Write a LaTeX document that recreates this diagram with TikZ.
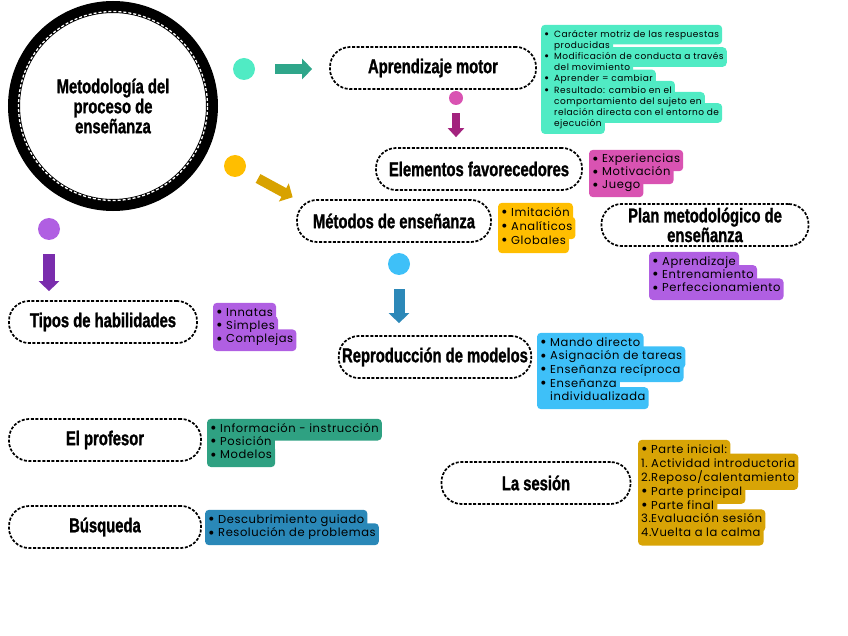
\documentclass[tikz,border=0pt]{standalone}
\usepackage{fontspec}
\newfontfamily\titlefont[FakeStretch=0.74, BoldFeatures={FakeBold=1.2}]{Liberation Sans}
\newfontfamily\bodyfont[LetterSpace=5]{Poppins}
\usetikzlibrary{arrows.meta, positioning, calc, backgrounds}
\definecolor{mapmint}{HTML}{50EBC4}
\definecolor{mapyellow}{HTML}{FFBE00}
\definecolor{mappink}{HTML}{D953B2}
\definecolor{mappurple}{HTML}{B05FE2}
\definecolor{mapblue}{HTML}{3EC0F8}
\definecolor{mapgreen}{HTML}{2FA182}
\definecolor{mapdblue}{HTML}{2A88B8}
\definecolor{mapgold}{HTML}{D8A406}
\definecolor{arrowteal}{HTML}{2FA68A}
\definecolor{arrowgold}{HTML}{D8A200}
\definecolor{arrowpink}{HTML}{A3237E}
\definecolor{arrowpurple}{HTML}{7A2DAD}
\definecolor{arrowblue}{HTML}{2C88B8}

\newcommand\bul{\makebox[10pt][l]{\raisebox{-0.2ex}{\scalebox{1.4}{\textbullet}}}}
\newcommand\ind{\hspace*{10pt}}
\newcommand\num[1]{\makebox[10pt][l]{#1}}
% one highlighted line per item: name, colour, x, top, line height, font size, items
\newcommand\hlist[7]{%
  \foreach \itm [count=\i] in {#7} {
    \node[hl, minimum height=#5pt,
          font=\bodyfont\fontsize{#6}{#6}\selectfont]
      (#1\i) at (#3, #4+4+#5*\i-#5/2) {\itm};
    \begin{pgfonlayer}{background}
      \fill[#2, rounded corners=4pt] ($(#1\i.north west)+(0,-4)$)
        rectangle ($(#1\i.south east)+(0,4)$);
    \end{pgfonlayer}
  }}

\begin{document}
\begin{tikzpicture}[x=1pt, y=-1pt,
  topic/.style={draw, line width=1.7pt, dash pattern=on 3pt off 1.6pt,
    rounded corners=20pt, minimum height=42pt, inner ysep=2pt,
    align=center, font=\titlefont\bfseries\fontsize{20}{18}\selectfont},
  hl/.style={inner xsep=3pt, inner ysep=0pt,
    anchor=west, text height=7.5pt, text depth=2.5pt, text=black},
  dot/.style={circle, fill=#1, inner sep=0pt, minimum size=22pt},
  blk/.style={draw=#1, line width=10pt,
    -{Triangle[length=10pt, width=20pt]}}
]
\useasboundingbox (0,0) rectangle (848,636);

% Central circle
\node[circle, minimum size=190pt, align=center,
      font=\titlefont\bfseries\fontsize{20}{20}\selectfont]
  (main) at (113,106) {Metodología del\\proceso de\\enseñanza};
\draw[line width=12pt] (main.center) circle[radius=99pt];
\draw[white, line width=1.3pt, dash pattern=on 3pt off 2pt]
  (main.center) circle[radius=94.5pt];

% Topics
\node[topic, minimum width=206pt] (aprend) at (433,68) {Aprendizaje motor};
\node[topic, minimum width=206pt] (elem) at (479,169) {Elementos favorecedores};
\node[topic, minimum width=194pt] (metod) at (394,221) {Métodos de enseñanza};
\node[topic, minimum width=207pt] (plan) at (705,225)
  {Plan metodológico de\\enseñanza};
\node[topic, minimum width=188pt] (tipos) at (103,322) {Tipos de habilidades};
\node[topic, minimum width=192pt] (repro) at (435,357) {Reproducción de modelos};
\node[topic, minimum width=192pt] (prof) at (105,440) {El profesor};
\node[topic, minimum width=189pt] (sesion) at (536,483) {La sesión};
\node[topic, minimum width=192pt] (busq) at (105,527) {Búsqueda};

% Dots and arrows
\node[dot=mapmint] (dA) at (244,69) {};
\node[dot=mapyellow] (dY) at (235,166) {};
\node[dot=mappink, minimum size=14pt] (dP) at (456,98) {};
\node[dot=mappurple] (dV) at (49,229) {};
\node[dot=mapblue] (dB) at (399,264) {};

\draw[blk=arrowteal, shorten <=20pt, shorten >=17pt] (dA) -- (dA -| aprend.west);
\draw[blk=arrowgold, shorten <=15pt, shorten >=4pt] (dY) -- (metod.north west);
\draw[blk=arrowpink, line width=8pt, shorten <=8pt, shorten >=10pt,
      -{Triangle[length=9pt, width=16pt]}] (dP) -- (dP |- elem.north);
\draw[blk=arrowpurple, line width=12pt, shorten <=14pt, shorten >=9pt]
  (dV) -- (dV |- tipos.north);
\draw[blk=arrowblue, line width=11pt, shorten <=14pt, shorten >=12pt]
  (dB) -- (dB |- repro.north);

% Detail boxes
\hlist{mot}{mapmint}{541}{25}{11.2}{9}{
  {\bul Carácter motriz de las respuestas},
  {\ind producidas},
  {\bul Modificación de conducta a través},
  {\ind del movimiento},
  {\bul Aprender = cambiar},
  {\bul Resultado: cambio en el},
  {\ind comportamiento del sujeto en},
  {\ind relación directa con el entorno de},
  {\ind ejecución}}
\hlist{fav}{mappink}{589}{150}{13}{11.5}{
  {\bul Experiencias}, {\bul Motivación}, {\bul Juego}}
\hlist{met}{mapyellow}{498}{203}{14}{11.5}{
  {\bul Imitación}, {\bul Analíticos}, {\bul Globales}}
\hlist{pla}{mappurple}{649}{252}{13.3}{11.5}{
  {\bul Aprendizaje}, {\bul Entrenamiento}, {\bul Perfeccionamiento}}
\hlist{hab}{mappurple}{213}{303}{13.3}{11.5}{
  {\bul Innatas}, {\bul Simples}, {\bul Complejas}}
\hlist{rep}{mapblue}{537}{333}{13.6}{11.5}{
  {\bul Mando directo},
  {\bul Asignación de tareas},
  {\bul Enseñanza recíproca},
  {\bul Enseñanza},
  {\ind individualizada}}
\hlist{pro}{mapgreen}{207}{419}{13.3}{11.5}{
  {\bul Información - instrucción}, {\bul Posición}, {\bul Modelos}}
\hlist{bus}{mapdblue}{205}{510}{13.5}{11.5}{
  {\bul Descubrimiento guiado}, {\bul Resolución de problemas}}
\hlist{ses}{mapgold}{638}{440}{13.9}{11.5}{
  {\bul Parte inicial:},
  {\num{1.}Actividad introductoria},
  {\num{2.}Reposo/calentamiento},
  {\bul Parte principal},
  {\bul Parte final},
  {\num{3.}Evaluación sesión},
  {\num{4.}Vuelta a la calma}}
\end{tikzpicture}
\end{document}
